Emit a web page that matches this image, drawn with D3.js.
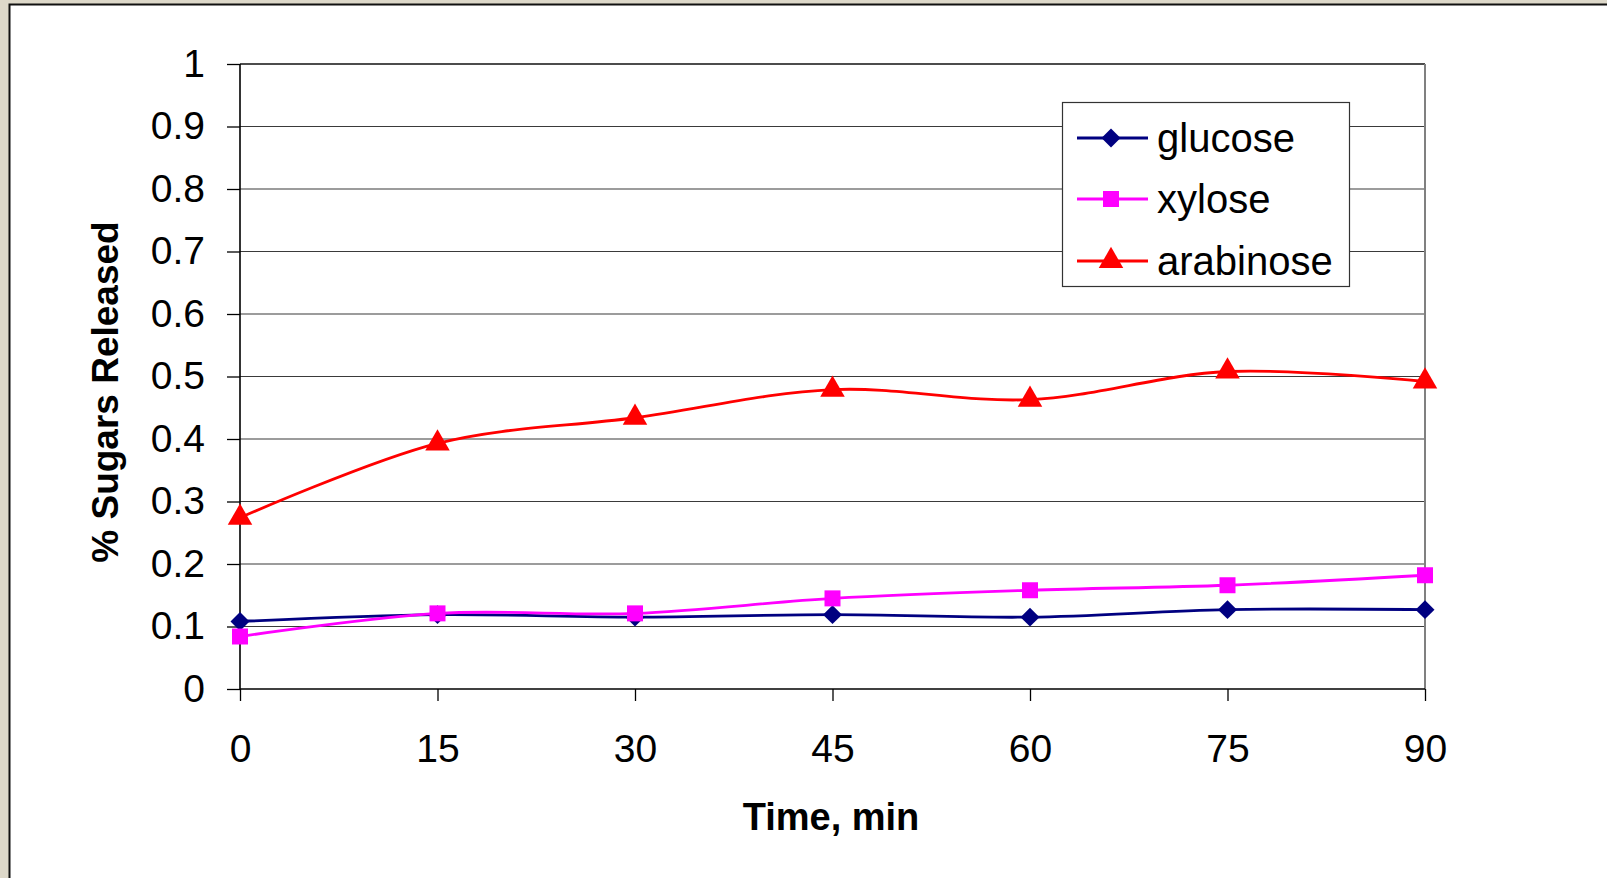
<!DOCTYPE html>
<html><head><meta charset="utf-8">
<script src="https://cdn.jsdelivr.net/npm/d3@7"></script>
<style>
html,body{margin:0;padding:0;background:#ddd8c9;overflow:hidden;}
svg{display:block;}
</style></head>
<body><svg id="c" width="1607" height="878"></svg>
<script>
const times = [0, 15, 30, 45, 60, 75, 90];
const xTicks = [0, 15, 30, 45, 60, 75, 90];
const yTicks = [0, 0.1, 0.2, 0.3, 0.4, 0.5, 0.6, 0.7, 0.8, 0.9, 1];
const glucose = [0.108, 0.119, 0.115, 0.119, 0.115, 0.127, 0.127];
const xylose = [0.084, 0.121, 0.121, 0.145, 0.158, 0.166, 0.182];
const arabinose = [0.274, 0.393, 0.434, 0.479, 0.463, 0.508, 0.492];
const seriesNames = ["glucose", "xylose", "arabinose"];

const series = [
  {name: seriesNames[0], values: glucose, color: "#000080", marker: "diamond"},
  {name: seriesNames[1], values: xylose, color: "#ff00ff", marker: "square"},
  {name: seriesNames[2], values: arabinose, color: "#ff0000", marker: "triangle"}
];

const svg = d3.select("#c");
const FONT = "'Liberation Sans', Arial, sans-serif";

// white panel
svg.append("rect").attr("x", 9.5).attr("y", 4.5).attr("width", 1700).attr("height", 1000)
  .attr("fill", "#fff").attr("stroke", "#111").attr("stroke-width", 2);

const L = 240, R = 1425, T = 64, B = 689;
const x = d3.scaleLinear().domain([0, 90]).range([L, R]);
const y = d3.scaleLinear().domain([0, 1]).range([B, T]);

// gridlines
svg.append("g").selectAll("line").data(yTicks.filter(d => d > 0)).join("line")
  .attr("x1", L).attr("x2", R).attr("y1", d => y(d)).attr("y2", d => y(d))
  .attr("stroke", d => d === 1 ? "#111" : "#3a3a3a").attr("stroke-width", d => d === 1 ? 1.6 : 1.2);

// right border
svg.append("line").attr("x1", R).attr("x2", R).attr("y1", T).attr("y2", B)
  .attr("stroke", "#808080").attr("stroke-width", 2);

// axes
const yAxis = d3.axisLeft(y).tickValues(yTicks).tickSize(13).tickPadding(22)
  .tickFormat(d => d3.format("")(+d.toFixed(1)));
const gy = svg.append("g").attr("transform", `translate(${L},0)`).call(yAxis);
const xAxis = d3.axisBottom(x).tickValues(xTicks).tickSize(12).tickPadding(33);
const gx = svg.append("g").attr("transform", `translate(0,${B})`).call(xAxis);
[gx, gy].forEach(g => {
  g.select(".domain").attr("stroke", "#000").attr("stroke-width", 1.6);
  g.selectAll(".tick line").attr("stroke", "#000").attr("stroke-width", 1.3);
  g.selectAll(".tick text").attr("fill", "#000").style("font-family", FONT).style("font-size", "39px");
});
gx.select(".domain").attr("d", `M${L},0H${R}`);
gy.select(".domain").attr("d", `M0,${B}V${T}`);

// axis titles
svg.append("text").attr("x", 831).attr("y", 830).attr("text-anchor", "middle")
  .style("font-family", FONT).style("font-size", "38px").style("font-weight", "bold").text("Time, min");
svg.append("text").attr("transform", "translate(118,392) rotate(-90)").attr("text-anchor", "middle")
  .style("font-family", FONT).style("font-size", "37px").style("font-weight", "bold").text("% Sugars Released");

// markers
function markerPath(type) {
  if (type === "diamond") return d3.symbol().type(d3.symbolDiamond2).size(230)();
  if (type === "square") return "M-8,-8H8V8H-8Z";
  return d3.symbol().type(d3.symbolTriangle).size(260)();
}

const line = d3.line().x(d => x(d[0])).y(d => y(d[1])).curve(d3.curveCardinal.tension(0));

series.forEach(s => {
  const pts = times.map((t, i) => [t, s.values[i]]);
  const g = svg.append("g");
  g.append("path").datum(pts).attr("d", line).attr("fill", "none")
    .attr("stroke", s.color).attr("stroke-width", 2.8);
  g.selectAll("path.m").data(pts).join("path").attr("class", "m")
    .attr("transform", d => `translate(${x(d[0])},${y(d[1])})`)
    .attr("d", markerPath(s.marker)).attr("fill", s.color);
});

// legend
const lg = svg.append("g");
lg.append("rect").attr("x", 1062.5).attr("y", 102.5).attr("width", 287).attr("height", 184)
  .attr("fill", "#fff").attr("stroke", "#333").attr("stroke-width", 1.2);
const lys = [138, 199, 261];
series.forEach((s, i) => {
  lg.append("line").attr("x1", 1077).attr("x2", 1148).attr("y1", lys[i]).attr("y2", lys[i])
    .attr("stroke", s.color).attr("stroke-width", 2.8);
  lg.append("path").attr("transform", `translate(1111,${lys[i]})`).attr("d", markerPath(s.marker)).attr("fill", s.color);
  lg.append("text").attr("x", 1157).attr("y", lys[i] + 14).style("font-family", FONT)
    .style("font-size", "40px").attr("fill", "#000").text(s.name);
});
</script></body></html>
